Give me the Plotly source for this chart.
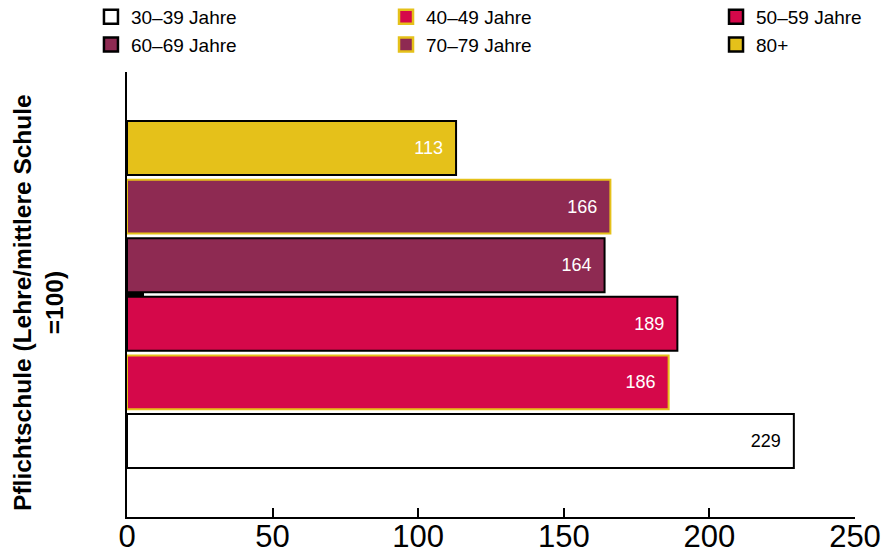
import plotly.graph_objects as go

category = ["Pflichtschule (Lehre/mittlere Schule =100)"]
series_names = ["30–39 Jahre", "40–49 Jahre", "50–59 Jahre", "60–69 Jahre", "70–79 Jahre", "80+"]
series_values = [229, 186, 189, 164, 166, 113]
fill_colors = ["#FFFFFF", "#D5084A", "#D5084A", "#8E2A52", "#8E2A52", "#E5C11A"]
border_colors = ["#000000", "#E5C11A", "#000000", "#000000", "#E5C11A", "#000000"]
text_colors = ["#000000", "#FFFFFF", "#FFFFFF", "#FFFFFF", "#FFFFFF", "#FFFFFF"]
legend_ids = ["legend", "legend2", "legend3", "legend", "legend2", "legend3"]
y_title = "<b>Pflichtschule (Lehre/mittlere Schule<br>=100)</b>"

FONT = "Liberation Sans, Arial, Helvetica, sans-serif"

fig = go.Figure()
for name, val, fc, bc, tc, lg in zip(series_names, series_values, fill_colors,
                                      border_colors, text_colors, legend_ids):
    fig.add_trace(go.Bar(
        name=name, y=category, x=[val], orientation="h",
        marker=dict(color=fc, line=dict(color=bc, width=2)),
        text=[str(val) + "\u00a0\u00a0"], textposition="inside",
        insidetextanchor="end",
        textfont=dict(color=tc, size=18, family=FONT),
        showlegend=False, legendgroup=name, hoverinfo="x+name",
    ))
    # legend-only marker (larger square swatch like the reference)
    fig.add_trace(go.Scatter(
        name=name, x=[None], y=[None], mode="markers",
        marker=dict(symbol="square", size=14, color=fc,
                    line=dict(color=bc, width=2.5)),
        legend=lg, legendgroup=name, hoverinfo="skip",
    ))

legend_common = dict(orientation="v", yanchor="top", xanchor="left",
                     font=dict(size=19, family=FONT, color="#000"),
                     bgcolor="rgba(0,0,0,0)", tracegroupgap=0,
                     itemclick=False, itemdoubleclick=False)

LY = 1.1663
fig.update_layout(
    width=884, height=547,
    margin=dict(l=119, r=37, t=64, b=38, autoexpand=False),
    paper_bgcolor="white", plot_bgcolor="white",
    barmode="group", bargap=0.21, bargroupgap=0.08,
    font=dict(family=FONT, color="#000"),
    legend=dict(x=-0.0495, y=LY, **legend_common),
    legend2=dict(x=0.3558, y=LY, **legend_common),
    legend3=dict(x=0.8091, y=LY, **legend_common),
    xaxis=dict(range=[0, 250], dtick=50, showgrid=False, zeroline=False,
               showline=True, linecolor="#000", linewidth=2,
               ticks="inside", ticklen=9, tickwidth=2, tickcolor="#000",
               automargin=False, ticklabelstandoff=-9,
               tickfont=dict(size=31, family=FONT, color="#000")),
    yaxis=dict(showgrid=False, zeroline=False, showline=True,
               linecolor="#000", linewidth=2, showticklabels=False,
               ticks="inside", ticklen=17, tickwidth=2.5, tickcolor="#000",
               automargin=False),
    annotations=[dict(text=y_title, xref="paper", yref="paper",
                      x=-0.1225, y=0.483, xanchor="center", yanchor="middle",
                      textangle=-90, showarrow=False, borderpad=0,
                      font=dict(size=24.5, family=FONT, color="#000"))],
)

fig.write_html("out.html")
